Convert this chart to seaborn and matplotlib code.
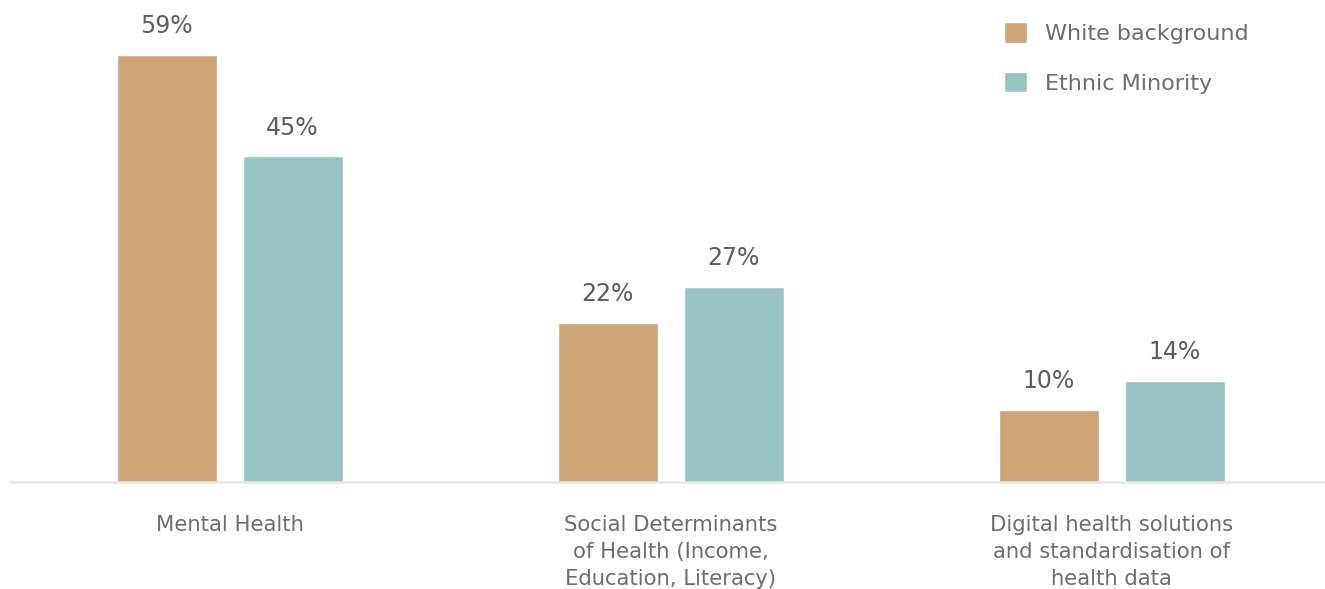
import pandas as pd
import numpy as np
import matplotlib
matplotlib.use('Agg')
import matplotlib.pyplot as plt
import seaborn as sns
from matplotlib.patches import Patch

categories = ['Mental Health',
              'Social Determinants\nof Health (Income,\nEducation, Literacy)',
              'Digital health solutions\nand standardisation of\nhealth data']
groups = ['White background', 'Ethnic Minority']
white_vals = [59, 22, 10]
minority_vals = [45, 27, 14]
colors = ['#CDA577', '#98C3C5']

df = pd.DataFrame({
    'category': categories * 2,
    'group': [groups[0]] * 3 + [groups[1]] * 3,
    'value': white_vals + minority_vals,
})

sns.set_style('white')
plt.rcParams['font.family'] = ['DejaVu Sans']

fig = plt.figure(figsize=(13.25, 5.89), dpi=100)
ax = fig.add_axes([10 / 1325, 107 / 589, 1 - 10 / 1325, 482 / 589])

ax = sns.barplot(data=df, x='category', y='value', hue='group', palette=colors,
                 width=0.571, gap=0.206, saturation=1, legend=False, ax=ax)

for c in ax.containers:
    ax.bar_label(c, fmt='%d%%', padding=12, fontsize=17, color='#5a5f5d')

ax.set_ylim(0, 66.6)
ax.set_xlim(-0.498, 2.483)
ax.set_yticks([])
ax.set_xlabel('')
ax.set_ylabel('')
for s in ['top', 'left', 'right']:
    ax.spines[s].set_visible(False)
ax.spines['bottom'].set_color('#e6e6e6')
ax.spines['bottom'].set_linewidth(1.8)
ax.tick_params(axis='x', length=0, pad=24)
for lab in ax.get_xticklabels():
    lab.set_fontsize(15.2)
    lab.set_color('#6d6d6d')
    lab.set_linespacing(1.42)
    lab.set_va('top')

handles = [Patch(facecolor=colors[i], label=groups[i]) for i in range(2)]
fig.legend(handles=handles, loc='upper left', bbox_to_anchor=(984 / 1325, 1 - 2 / 589),
           frameon=False, fontsize=16, labelcolor='#6d6d6d', handlelength=1.05,
           handleheight=1.05, handletextpad=0.8, labelspacing=1.25)

plt.savefig('out.png', dpi=100)
